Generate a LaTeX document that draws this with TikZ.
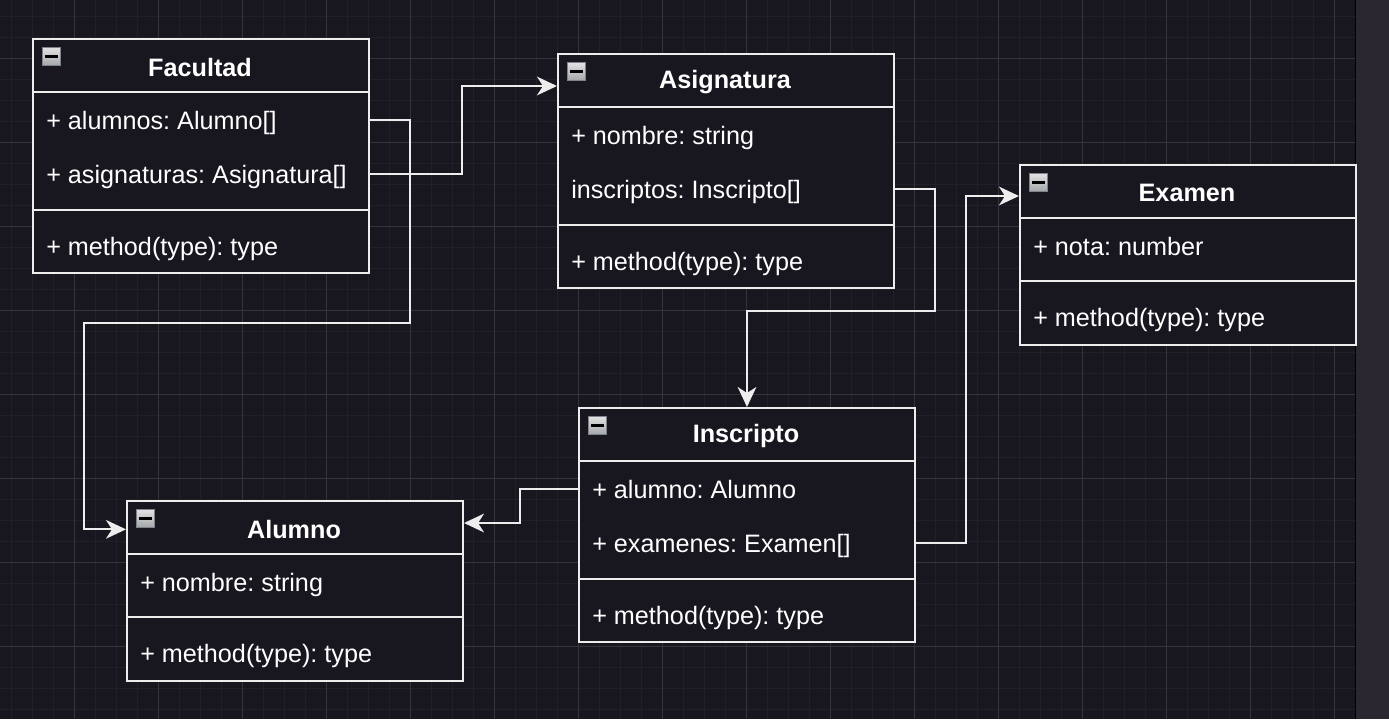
\documentclass[tikz,border=0pt]{standalone}
\usepackage{fontspec}
\setmainfont{Liberation Sans}
\frenchspacing
\usetikzlibrary{calc,arrows.meta,positioning}

\definecolor{canvas}{HTML}{18161E}
\definecolor{gridminor}{HTML}{211F27}
\definecolor{gridmajor}{HTML}{35333B}
\definecolor{panel}{HTML}{2B2731}
\definecolor{edge}{HTML}{EDEDED}
\definecolor{icontop}{HTML}{E2E2E2}
\definecolor{iconbottom}{HTML}{A4A6AA}
\definecolor{iconrim}{HTML}{7C838D}

\tikzset{
  classbox/.style={draw=edge, fill=canvas, line width=1.5pt, minimum width=252pt, inner sep=0pt, anchor=north west},
  boxline/.style={draw=edge, line width=1.5pt},
  titletext/.style={text=white, inner sep=0pt, yshift=-1pt, font=\fontsize{18.9}{22}\selectfont\bfseries},
  attrtext/.style={text=white, anchor=west, inner sep=0pt, text height=15.5pt, text depth=0.7pt, font=\fontsize{18.9}{22}\selectfont},
  minusicon/.style={draw=iconrim, line width=0.8pt, top color=icontop, bottom color=iconbottom, minimum size=13.5pt, inner sep=0pt,
    path picture={\draw[black, line width=1.6pt] ($(path picture bounding box.center)+(-4.6pt,0)$) -- ($(path picture bounding box.center)+(4.6pt,0)$);}},
  assoc/.style={draw=edge, line width=1.5pt, -{Stealth[length=15pt, width=14pt, inset=4.5pt]}},
}

\begin{document}
\begin{tikzpicture}[x=0.75pt, y=-0.75pt]
		%%%%% START %%%%%
		
		\useasboundingbox (0,0) rectangle (1389,719);
		
		% canvas and grid
		\fill[canvas] (0,0) rectangle (1355,719);
		\foreach \x in {11,32,...,1354} \draw[gridminor, line width=0.75pt] (\x,0) -- (\x,719);
		\foreach \y in {16,37,...,719} \draw[gridminor, line width=0.75pt] (0,\y) -- (1355,\y);
		\foreach \x in {74,158,...,1354} \draw[gridmajor, line width=0.75pt] (\x,0) -- (\x,719);
		\foreach \y in {58,142,...,719} \draw[gridmajor, line width=0.75pt] (0,\y) -- (1355,\y);
		\fill[panel] (1356,0) rectangle (1389,719);
		\draw[black, line width=0.9pt] (1355.6,0) -- (1355.6,719);
		
		% Facultad
		\node[classbox, minimum height=175.5pt] (fac) at (32,38) {};
		\draw[boxline] (32,92) -- (368,92);
		\draw[boxline] (32,210) -- (368,210);
		\node[minusicon] (fac-icon) at (51.5,56.5) {};
		\node[titletext] (fac-title) at (200,66) {Facultad};
		\node[attrtext] (fac-alumnos) at (46,120) {+ alumnos: Alumno[]};
		\node[attrtext] (fac-asignaturas) at (46,174) {+ asignaturas: Asignatura[]};
		\node[attrtext] (fac-method) at (46,246) {+ method(type): type};
		
		% Asignatura
		\node[classbox, minimum height=175.5pt] (asi) at (557,53) {};
		\draw[boxline] (557,107) -- (893,107);
		\draw[boxline] (557,225) -- (893,225);
		\node[minusicon] (asi-icon) at (576.5,71.5) {};
		\node[titletext] (asi-title) at (725,81) {Asignatura};
		\node[attrtext] (asi-nombre) at (571,135) {+ nombre: string};
		\node[attrtext] (asi-inscriptos) at (571,189) {inscriptos: Inscripto[]};
		\node[attrtext] (asi-method) at (571,261) {+ method(type): type};
		
		% Examen
		\node[classbox, minimum height=135pt] (exa) at (1019,164) {};
		\draw[boxline] (1019,218) -- (1355,218);
		\draw[boxline] (1019,281) -- (1355,281);
		\node[minusicon] (exa-icon) at (1038.5,182.5) {};
		\node[titletext] (exa-title) at (1187,192) {Examen};
		\node[attrtext] (exa-nota) at (1033,246) {+ nota: number};
		\node[attrtext] (exa-method) at (1033,317) {+ method(type): type};
		
		% Inscripto
		\node[classbox, minimum height=175.5pt] (ins) at (578,407) {};
		\draw[boxline] (578,461) -- (914,461);
		\draw[boxline] (578,579) -- (914,579);
		\node[minusicon] (ins-icon) at (597.5,425.5) {};
		\node[titletext] (ins-title) at (746,435) {Inscripto};
		\node[attrtext] (ins-alumno) at (592,489) {+ alumno: Alumno};
		\node[attrtext] (ins-examenes) at (592,543) {+ examenes: Examen[]};
		\node[attrtext] (ins-method) at (592,615) {+ method(type): type};
		
		% Alumno
		\node[classbox, minimum height=135pt] (alu) at (126,500) {};
		\draw[boxline] (126,554) -- (462,554);
		\draw[boxline] (126,617) -- (462,617);
		\node[minusicon] (alu-icon) at (145.5,518.5) {};
		\node[titletext] (alu-title) at (294,528) {Alumno};
		\node[attrtext] (alu-nombre) at (140,582) {+ nombre: string};
		\node[attrtext] (alu-method) at (140,653) {+ method(type): type};
		
		% connectors
		\coordinate (j1) at (410,323);
		\coordinate (j2) at (84,323);
		\coordinate (j3) at (462,86);
		\coordinate (j4) at (935,311);
		\coordinate (j5) at (520,523);
		\coordinate (j6) at (966,196);
		
		\draw[assoc] (fac.east |- fac-alumnos) -| (j1) -- (j2) |- (alu.west |- alu-title);
		\draw[assoc] (fac.east |- fac-asignaturas) -| (j3) -- (asi.west |- j3);
		\draw[assoc] (asi.east |- asi-inscriptos) -| (j4) -| (ins.north);
		\draw[assoc] (ins.west |- ins-alumno) -| (j5) -- (alu.east |- j5);
		\draw[assoc] (ins.east |- ins-examenes) -| (j6) -- (exa.west |- j6);
		
		%%%%% END %%%%%
	\end{tikzpicture}
\end{document}
